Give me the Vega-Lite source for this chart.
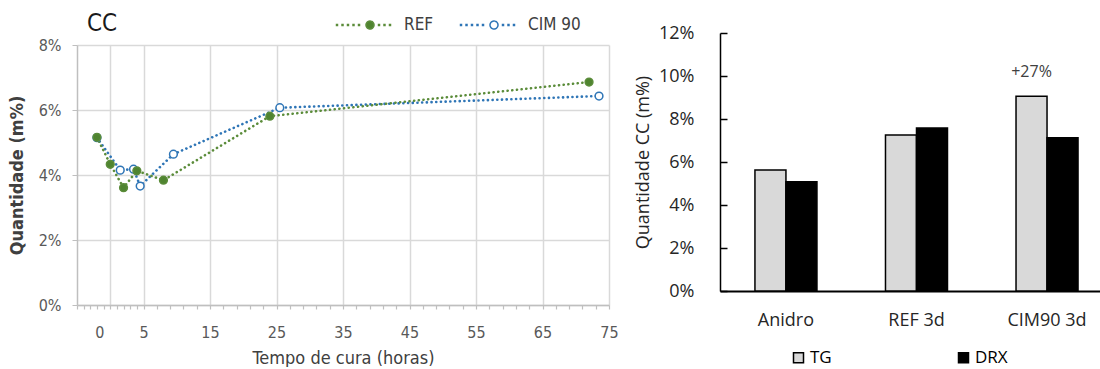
{
  "$schema": "https://vega.github.io/schema/vega-lite/v6.json",
  "background": "white",
  "padding": {"left": 8, "top": -9, "right": 0, "bottom": 0},
  "spacing": 15,
  "resolve": {"scale": {"fill": "independent", "stroke": "independent"}, "legend": {"fill": "independent", "stroke": "independent"}},
  "config": {
    "view": {"stroke": null},
    "font": "DejaVu Sans Condensed, Open Sans, sans-serif"
  },
  "hconcat": [
    {
      "width": 532,
      "height": 260,
      "data": {
        "values": [
          {"serie": "CIM 90", "horas": -2, "quantidade": 5.15},
          {"serie": "CIM 90", "horas": 1.5, "quantidade": 4.15},
          {"serie": "CIM 90", "horas": 3.5, "quantidade": 4.18},
          {"serie": "CIM 90", "horas": 4.5, "quantidade": 3.66},
          {"serie": "CIM 90", "horas": 9.5, "quantidade": 4.64},
          {"serie": "CIM 90", "horas": 25.5, "quantidade": 6.07},
          {"serie": "CIM 90", "horas": 73.5, "quantidade": 6.43},
          {"serie": "REF", "horas": -2, "quantidade": 5.16},
          {"serie": "REF", "horas": 0, "quantidade": 4.33},
          {"serie": "REF", "horas": 2, "quantidade": 3.61},
          {"serie": "REF", "horas": 4, "quantidade": 4.13},
          {"serie": "REF", "horas": 8, "quantidade": 3.84},
          {"serie": "REF", "horas": 24, "quantidade": 5.81},
          {"serie": "REF", "horas": 72, "quantidade": 6.86}
        ]
      },
      "encoding": {
        "x": {
          "field": "horas", "type": "quantitative",
          "scale": {"domain": [-5, 75], "nice": false, "zero": false},
          "axis": {
            "title": "Tempo de cura (horas)",
            "values": [-5, -4, -3, -2, -1, 0, 1, 2, 3, 4, 5, 7, 9, 11, 13, 15, 17, 19, 21, 23, 25, 27, 29, 31, 33, 35, 37, 39, 41, 43, 45, 47, 49, 51, 53, 55, 57, 59, 61, 63, 65, 67, 69, 71, 73, 75],
            "labelExpr": "(datum.value === 0 || (datum.value >= 5 && (datum.value - 5) % 10 === 0)) ? datum.label : ''",
            "labelOverlap": false,
            "labelFlush": false,
            "grid": true,
            "gridColor": "#d9d9d9",
            "gridWidth": 1.5,
            "gridOpacity": {"condition": {"test": "datum.value === 0 || (datum.value >= 5 && (datum.value - 5) % 10 === 0)", "value": 1}, "value": 0},
            "tickSize": 4,
            "tickColor": "#bfbfbf",
            "tickWidth": 1.2,
            "domainColor": "#bfbfbf",
            "domainWidth": 1.5,
            "labelFontSize": 16,
            "labelColor": "#595959",
            "labelPadding": 15,
            "labelOffset": {"condition": {"test": "datum.value === 0", "value": -11}, "value": 0},
            "titleFontSize": 18,
            "titleFontWeight": "normal",
            "titleColor": "#404040",
            "titlePadding": 9
          }
        },
        "y": {
          "field": "quantidade", "type": "quantitative",
          "scale": {"domain": [0, 8], "nice": false},
          "axis": {
            "title": "Quantidade (m%)",
            "values": [0, 2, 4, 6, 8],
            "labelExpr": "datum.value + '%'",
            "grid": true,
            "gridColor": "#d9d9d9",
            "gridWidth": 1.5,
            "tickSize": 5,
            "tickColor": "#bfbfbf",
            "domainColor": "#bfbfbf",
            "domainWidth": 1.5,
            "labelFontSize": 16,
            "labelColor": "#595959",
            "labelPadding": 11,
            "titleFontSize": 18,
            "titleFontWeight": "bold",
            "titleColor": "#404040",
            "titlePadding": 12
          }
        }
      },
      "layer": [
        {
          "mark": {"type": "line", "strokeDash": [0.1, 4.6], "strokeCap": "round", "strokeWidth": 2.6},
          "encoding": {
            "stroke": {
              "field": "serie", "type": "nominal",
              "scale": {"domain": ["REF", "CIM 90"], "range": ["#5b8c3a", "#2e75b6"]},
              "legend": {
                "orient": "none", "legendX": 10, "legendY": -54, "direction": "horizontal",
                "title": "CC", "titleOrient": "left", "titleAnchor": "middle", "titleBaseline": "top", "titleFontSize": 24, "titleFontWeight": "normal", "titleColor": "#1a1a1a", "titlePadding": 218,
                "symbolType": "M-1.015,-0.015h0.03v0.03h-0.03zM-0.848,-0.015h0.03v0.03h-0.03zM-0.682,-0.015h0.03v0.03h-0.03zM-0.515,-0.015h0.03v0.03h-0.03zM-0.348,-0.015h0.03v0.03h-0.03zM0.258,-0.015h0.03v0.03h-0.03zM0.424,-0.015h0.03v0.03h-0.03zM0.591,-0.015h0.03v0.03h-0.03zM-0.121,0A0.121,0.121,0,1,1,0.121,0A0.121,0.121,0,1,1,-0.121,0Z",
                "symbolSize": 4356, "symbolStrokeWidth": 1.5, "symbolDash": [1, 0], "symbolOpacity": 1,
                "labelFontSize": 17, "labelColor": "#404040", "labelOffset": 0, "columnPadding": 23, "padding": 0
              }
            }
          }
        },
        {
          "mark": {"type": "point", "shape": "circle", "size": 60, "strokeWidth": 1.5, "opacity": 1},
          "encoding": {
            "stroke": {
              "field": "serie", "type": "nominal",
              "scale": {"domain": ["REF", "CIM 90"], "range": ["#5b8c3a", "#2e75b6"]},
              "legend": {
                "orient": "none", "legendX": 10, "legendY": -54, "direction": "horizontal",
                "title": "CC", "titleOrient": "left", "titleAnchor": "middle", "titleBaseline": "top", "titleFontSize": 24, "titleFontWeight": "normal", "titleColor": "#1a1a1a", "titlePadding": 218,
                "symbolType": "M-1.015,-0.015h0.03v0.03h-0.03zM-0.848,-0.015h0.03v0.03h-0.03zM-0.682,-0.015h0.03v0.03h-0.03zM-0.515,-0.015h0.03v0.03h-0.03zM-0.348,-0.015h0.03v0.03h-0.03zM0.258,-0.015h0.03v0.03h-0.03zM0.424,-0.015h0.03v0.03h-0.03zM0.591,-0.015h0.03v0.03h-0.03zM-0.121,0A0.121,0.121,0,1,1,0.121,0A0.121,0.121,0,1,1,-0.121,0Z",
                "symbolSize": 4356, "symbolStrokeWidth": 1.5, "symbolDash": [1, 0], "symbolOpacity": 1,
                "labelFontSize": 17, "labelColor": "#404040", "labelOffset": 0, "columnPadding": 23, "padding": 0
              }
            },
            "fill": {
              "field": "serie", "type": "nominal",
              "scale": {"domain": ["REF", "CIM 90"], "range": ["#4f8430", "#ffffff"]},
              "legend": {
                "orient": "none", "legendX": 10, "legendY": -54, "direction": "horizontal",
                "title": "CC", "titleOrient": "left", "titleAnchor": "middle", "titleBaseline": "top", "titleFontSize": 24, "titleFontWeight": "normal", "titleColor": "#1a1a1a", "titlePadding": 218,
                "symbolType": "M-1.015,-0.015h0.03v0.03h-0.03zM-0.848,-0.015h0.03v0.03h-0.03zM-0.682,-0.015h0.03v0.03h-0.03zM-0.515,-0.015h0.03v0.03h-0.03zM-0.348,-0.015h0.03v0.03h-0.03zM0.258,-0.015h0.03v0.03h-0.03zM0.424,-0.015h0.03v0.03h-0.03zM0.591,-0.015h0.03v0.03h-0.03zM-0.121,0A0.121,0.121,0,1,1,0.121,0A0.121,0.121,0,1,1,-0.121,0Z",
                "symbolSize": 4356, "symbolStrokeWidth": 1.5, "symbolDash": [1, 0], "symbolOpacity": 1,
                "labelFontSize": 17, "labelColor": "#404040", "labelOffset": 0, "columnPadding": 23, "padding": 0
              }
            }
          }
        }
      ]
    },
    {
      "width": 380,
      "height": 246,
      "data": {
        "values": [
          {"amostra": "Anidro", "metodo": "TG", "quantidade": 5.63},
          {"amostra": "Anidro", "metodo": "DRX", "quantidade": 5.08},
          {"amostra": "REF 3d", "metodo": "TG", "quantidade": 7.26},
          {"amostra": "REF 3d", "metodo": "DRX", "quantidade": 7.58},
          {"amostra": "CIM90 3d", "metodo": "TG", "quantidade": 9.06, "rotulo": "+27%"},
          {"amostra": "CIM90 3d", "metodo": "DRX", "quantidade": 7.13}
        ]
      },
      "encoding": {
        "x": {
          "field": "amostra", "type": "nominal", "sort": ["Anidro", "REF 3d", "CIM90 3d"],
          "scale": {"paddingInner": 0.525, "paddingOuter": 0.218, "align": 0.614},
          "axis": {"title": null, "labelAngle": 0, "ticks": false, "domainColor": "black", "domainWidth": 2, "labelFont": "Open Sans", "labelFontSize": 18, "labelColor": "#262626", "labelPadding": 20}
        },
        "xOffset": {"field": "metodo", "type": "nominal", "sort": ["TG", "DRX"], "scale": {"paddingInner": 0, "paddingOuter": 0}},
        "y": {
          "field": "quantidade", "type": "quantitative",
          "scale": {"domain": [0, 12], "nice": false, "range": [246, -12]},
          "axis": {
            "title": "Quantidade CC (m%)",
            "values": [0, 2, 4, 6, 8, 10, 12],
            "labelExpr": "datum.value + '%'",
            "grid": false,
            "tickSize": -7,
            "tickColor": "black",
            "tickWidth": 1.5,
            "domainColor": "black",
            "domainWidth": 1.5,
            "labelPadding": 33,
            "labelFont": "Open Sans",
            "labelFontSize": 18,
            "labelColor": "#262626",
            "titleFont": "Open Sans",
            "titleFontSize": 18,
            "titleFontWeight": "normal",
            "titleColor": "#262626",
            "titlePadding": 6
          }
        }
      },
      "layer": [
        {
          "mark": {"type": "bar", "stroke": "black", "strokeWidth": 1.5},
          "encoding": {
            "fill": {
              "field": "metodo", "type": "nominal",
              "scale": {"domain": ["TG", "DRX"], "range": ["#d9d9d9", "#000000"]},
              "legend": {
                "orient": "none", "legendX": 70, "legendY": 304, "direction": "horizontal", "title": null,
                "symbolType": "square", "symbolSize": 100, "symbolStrokeColor": "black", "symbolStrokeWidth": 1.5,
                "labelFont": "Open Sans", "labelFontSize": 17, "labelColor": "black", "labelOffset": 3,
                "columnPadding": 123, "padding": 0,
                "labelExpr": "datum.label === 'DRX' ? '\u00a0\u00a0\u00a0\u00a0DRX' : datum.label"
              }
            }
          }
        },
        {
          "transform": [{"filter": "datum.rotulo"}],
          "mark": {"type": "text", "dy": -24, "fontSize": 16, "font": "Open Sans", "color": "#404040"},
          "encoding": {"text": {"field": "rotulo", "type": "nominal"}}
        }
      ]
    }
  ]
}
